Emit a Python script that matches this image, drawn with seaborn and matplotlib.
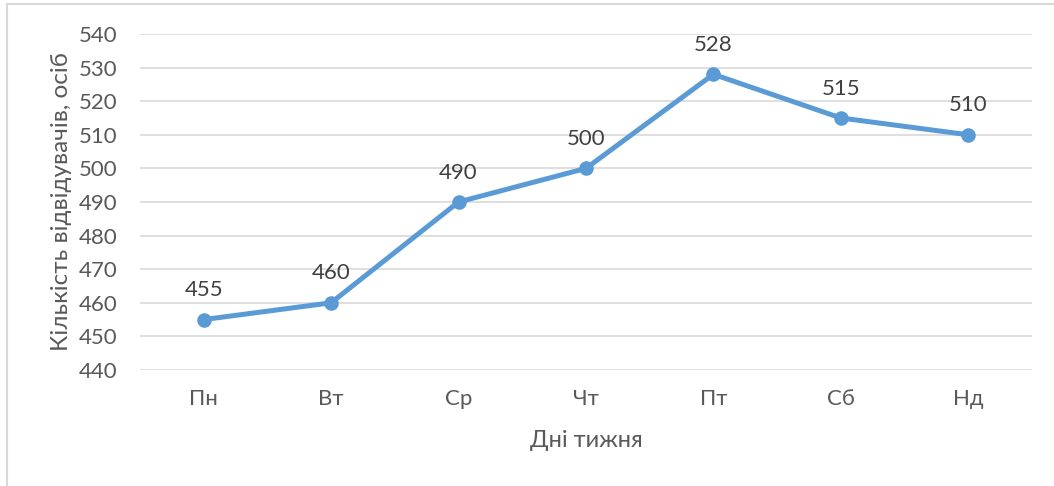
import seaborn as sns
import matplotlib.pyplot as plt
import pandas as pd
from matplotlib.patches import Rectangle

days = ["Пн", "Вт", "Ср", "Чт", "Пт", "Сб", "Нд"]
visitors = [455, 460, 490, 500, 528, 515, 510]
y_ticks = [440, 450, 460, 470, 480, 490, 500, 510, 520, 530, 540]

sns.set_style("white")
plt.rcParams['font.family'] = ['Lato', 'DejaVu Sans']

df = pd.DataFrame({"day": days, "visitors": visitors})
df["pos"] = range(len(days))

fig = plt.figure(figsize=(10.54, 4.86), dpi=100)
ax = fig.add_axes([0.1328, 0.2387, 0.8463, 0.6914])

sns.lineplot(data=df, x="pos", y="visitors", ax=ax, color="#5B9BD5",
             linewidth=3.6, marker="o", markersize=10.5, markeredgewidth=0, zorder=3)

for x, y in zip(df["pos"], df["visitors"]):
    ax.annotate(str(y), (x, y), xytext=(0, 14), textcoords="offset points",
                ha="center", va="bottom", fontsize=16, color="#404040")

ax.set_xlim(-0.5, len(days) - 0.5)
ax.set_ylim(440, 540)
ax.set_yticks(y_ticks)
ax.set_xticks(df["pos"])
ax.set_xticklabels(days)
ax.yaxis.grid(True, color="#D9D9D9", linewidth=1.2)
ax.set_axisbelow(True)
for s in ax.spines.values():
    s.set_visible(False)
ax.tick_params(axis="both", length=0, labelsize=16, labelcolor="#595959")
ax.tick_params(axis="y", pad=16)
ax.tick_params(axis="x", pad=14)
ax.set_xlabel("Дні тижня", fontsize=17, color="#595959", labelpad=15)
ax.set_ylabel("Кількість відвідувачів, осіб", fontsize=17.5, color="#595959", labelpad=5)

fig.patches.append(Rectangle((7 / 1054, -0.1), 1.2, 1.1 - 4 / 486, transform=fig.transFigure,
                             fill=False, edgecolor="#D9D9D9", linewidth=1.5))

fig.savefig("out.png", dpi=100)
